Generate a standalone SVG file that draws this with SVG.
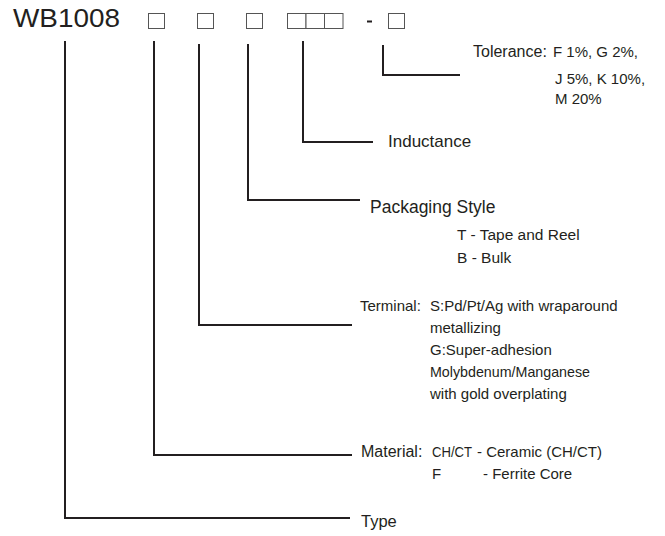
<svg xmlns="http://www.w3.org/2000/svg" width="665" height="536" viewBox="0 0 665 536">
<style>
text{font-family:"Liberation Sans",Arial,sans-serif;fill:#231f20}
.d{font-size:15px}
.ln{fill:none;stroke:#231f20;stroke-width:2}
.bx{fill:#fff;stroke:#555;stroke-width:1}
</style>
<rect width="665" height="536" fill="#fff"/>
<g id="code">
<text x="13" y="27" style="font-size:25px" textLength="107" lengthAdjust="spacingAndGlyphs">WB1008</text>
<rect class="bx" x="148.5" y="13.5" width="16" height="15"/>
<rect class="bx" x="197.5" y="13.5" width="16" height="15"/>
<rect class="bx" x="246.5" y="13.5" width="16" height="15"/>
<rect class="bx" x="287.5" y="13.5" width="18.5" height="15"/>
<rect class="bx" x="306" y="13.5" width="18.5" height="15"/>
<rect class="bx" x="324.5" y="13.5" width="18.5" height="15"/>
<rect x="367" y="20.5" width="5" height="2" fill="#231f20"/>
<rect class="bx" x="388.5" y="13.5" width="16" height="15"/>
</g>
<g id="connectors">
<path class="ln" d="M65 41V518H350"/>
<path class="ln" d="M154 41V455H352"/>
<path class="ln" d="M199 44V325H352"/>
<path class="ln" d="M248 44V200H360"/>
<path class="ln" d="M303 41V142H373"/>
<path class="ln" d="M383 45V75H460"/>
</g>
<g id="tolerance">
<text x="473" y="57" style="font-size:16px">Tolerance:</text>
<text class="d" x="553" y="57">F 1%, G 2%,</text>
<text class="d" x="555" y="84">J 5%, K 10%,</text>
<text class="d" x="555" y="104">M 20%</text>
</g>
<g id="inductance">
<text x="388" y="147" style="font-size:17px">Inductance</text>
</g>
<g id="packaging">
<text x="370" y="213" style="font-size:17.5px">Packaging Style</text>
<text x="457" y="240" style="font-size:15.5px">T - Tape and Reel</text>
<text x="457" y="263" style="font-size:15.5px">B - Bulk</text>
</g>
<g id="terminal">
<text class="d" x="360" y="311">Terminal:</text>
<text class="d" x="430" y="311">S:Pd/Pt/Ag with wraparound</text>
<text class="d" x="430" y="333">metallizing</text>
<text class="d" x="430" y="355">G:Super-adhesion</text>
<text class="d" x="430" y="377" textLength="160" lengthAdjust="spacingAndGlyphs">Molybdenum/Manganese</text>
<text class="d" x="430" y="399">with gold overplating</text>
</g>
<g id="material">
<text x="361" y="457" style="font-size:16px">Material:</text>
<text class="d" x="432" y="457" textLength="40" lengthAdjust="spacingAndGlyphs">CH/CT</text>
<text class="d" x="477" y="457">- Ceramic (CH/CT)</text>
<text class="d" x="432" y="479">F</text>
<text class="d" x="483" y="479">- Ferrite Core</text>
</g>
<g id="type">
<text x="361" y="527" style="font-size:16.5px">Type</text>
</g>
</svg>
